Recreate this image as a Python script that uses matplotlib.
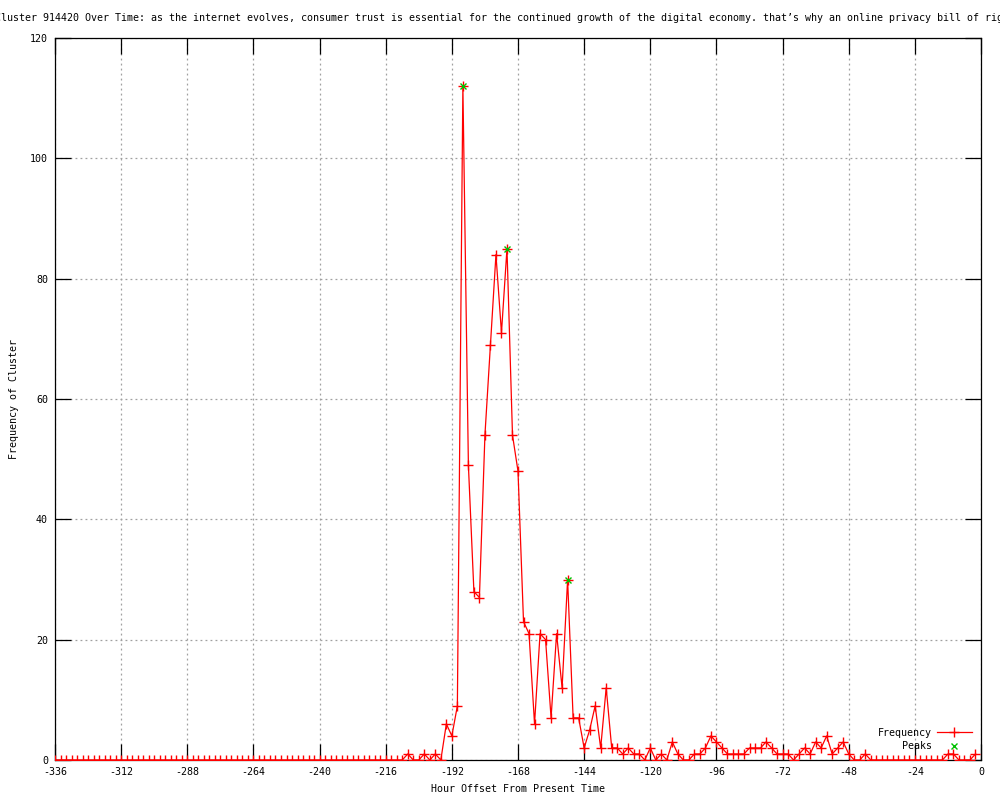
import matplotlib
matplotlib.use("Agg")
import matplotlib.pyplot as plt
from matplotlib.lines import Line2D

# ---- data ----
hours = list(range(-336, 0, 2))
frequency = [
    0, 0, 0, 0, 0, 0, 0, 0, 0, 0, 0, 0, 0, 0, 0, 0,   # -336 .. -306
    0, 0, 0, 0, 0, 0, 0, 0, 0, 0, 0, 0, 0, 0, 0, 0,   # -304 .. -274
    0, 0, 0, 0, 0, 0, 0, 0, 0, 0, 0, 0, 0, 0, 0, 0,   # -272 .. -242
    0, 0, 0, 0, 0, 0, 0, 0, 0, 0, 0, 0, 0, 0, 0, 0,   # -240 .. -210
    1, 0, 0, 1, 0, 1, 0, 6, 4, 9,                     # -208 .. -190
    112, 49, 28, 27, 54, 69, 84, 71, 85, 54,          # -188 .. -170
    48, 23, 21, 6, 21, 20, 7, 21, 12, 30,             # -168 .. -150
    7, 7, 2, 5, 9, 2, 12, 2, 2, 1,                    # -148 .. -130
    2, 1, 1, 0, 2, 0, 1, 0, 3, 1,                     # -128 .. -110
    0, 0, 1, 1, 2, 4, 3, 2, 1, 1,                     # -108 .. -90
    1, 1, 2, 2, 2, 3, 2, 1, 1, 1,                     # -88 .. -70
    0, 1, 2, 1, 3, 2, 4, 1, 2, 3,                     # -68 .. -50
    1, 0, 0, 1, 0, 0, 0, 0, 0, 0,                     # -48 .. -30
    0, 0, 0, 0, 0, 0, 0, 0, 1, 1,                     # -28 .. -10
    0, 0, 0, 1,                                       # -8 .. -2
]
peak_hours = [-188, -172, -150]
peak_values = [112, 85, 30]

x_ticks = list(range(-336, 1, 24))
y_ticks = list(range(0, 121, 20))

title_text = ("Cluster 914420 Over Time: as the internet evolves, consumer trust is "
              "essential for the continued growth of the digital economy. that\u2019s why "
              "an online privacy bill of rights")

# ---- style ----
plt.rcParams['font.family'] = ['DejaVu Sans Mono']
plt.rcParams['axes.unicode_minus'] = False
FS = 7.2

fig = plt.figure(figsize=(10, 8), dpi=100)
ax = fig.add_axes([0.055, 0.05, 0.926, 0.9025])

ax.grid(True, color='#a0a0a0', linestyle=(0, (1.5, 2.5)), linewidth=0.9)
ax.set_axisbelow(True)

ax.plot(hours, frequency, color='red', linewidth=0.9, marker='+',
        markersize=7, markeredgewidth=1.0, zorder=3)
ax.plot(peak_hours, peak_values, linestyle='none', color='#00c000', marker='x',
        markersize=5, markeredgewidth=1.0, zorder=4)

ax.set_xlim(-336, 0)
ax.set_ylim(0, 120)
ax.set_xticks(x_ticks)
ax.set_yticks(y_ticks)
ax.set_xticklabels([str(v) for v in x_ticks], fontsize=FS)
ax.set_yticklabels([str(v) for v in y_ticks], fontsize=FS)
ax.tick_params(direction='in', length=11.5, width=0.9, top=True, right=True,
               color='black', pad=5)

for s in ax.spines.values():
    s.set_linewidth(0.9)
    s.set_color('black')

ax.set_xlabel("Hour Offset From Present Time", fontsize=FS, labelpad=5)
ax.set_ylabel("Frequency of Cluster", fontsize=FS, labelpad=8)

fig.text(-5 / 1000, 1 - 18 / 800, title_text, fontsize=FS, ha='left', va='center')

handles = [
    Line2D([], [], color='red', linewidth=0.9, marker='+', markersize=7,
           markeredgewidth=1.0),
    Line2D([], [], color='#00c000', linestyle='none', marker='x', markersize=5,
           markeredgewidth=1.0),
]
ax.legend(handles, ["Frequency", "Peaks"], loc='lower right',
          bbox_to_anchor=(0.99, 0.012), frameon=False, markerfirst=False,
          fontsize=FS, handlelength=3.5, handletextpad=0.5, labelspacing=0.35,
          borderpad=0, borderaxespad=0, numpoints=1)

fig.savefig("out.png", dpi=100)
